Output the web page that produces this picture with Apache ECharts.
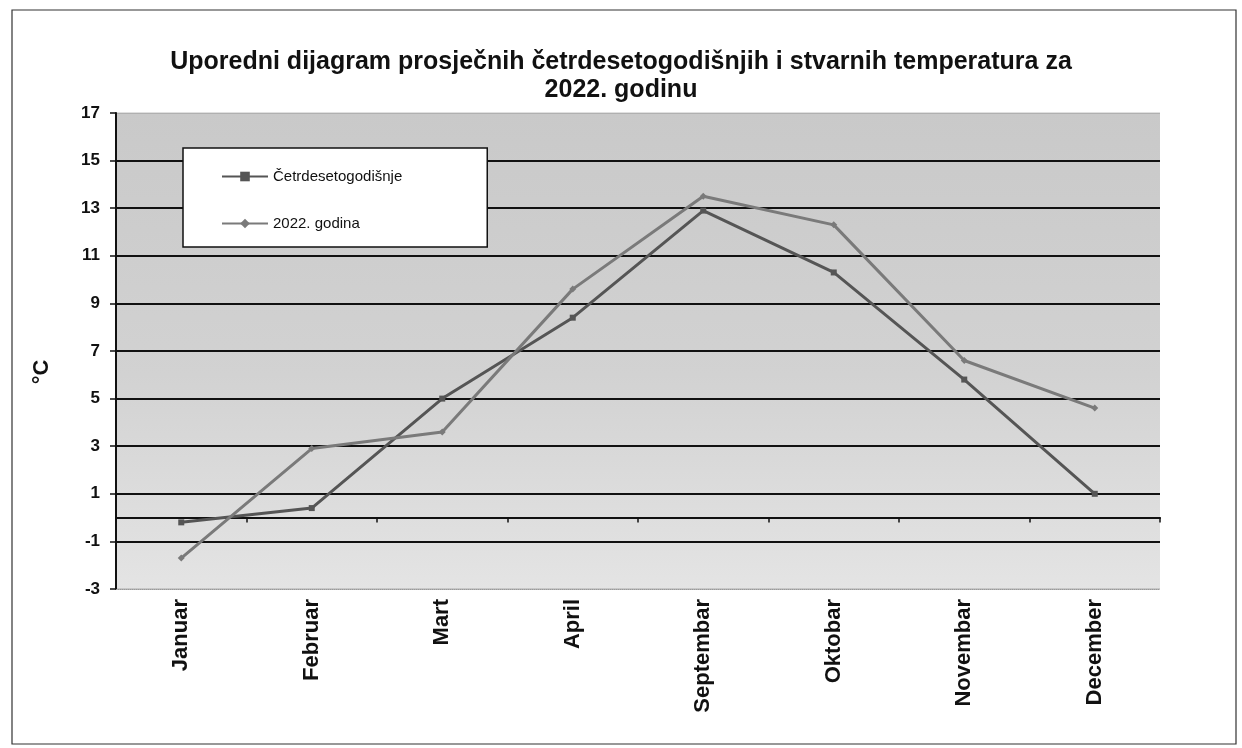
<!DOCTYPE html>
<html>
<head>
<meta charset="utf-8">
<script src="https://cdn.jsdelivr.net/npm/echarts@6/dist/echarts.min.js"></script>
<style>
  html, body { margin: 0; padding: 0; background: #fff; }
  #chart { width: 1242px; height: 748px; }
</style>
</head>
<body>
<div id="chart"></div>
<script>
"use strict";

var months = ['Januar', 'Februar', 'Mart', 'April', 'Septembar', 'Oktobar', 'Novembar', 'December'];
var prosjek = [-0.2, 0.4, 5.0, 8.4, 12.9, 10.3, 5.8, 1.0];
var godina2022 = [-1.7, 2.9, 3.6, 9.6, 13.5, 12.3, 6.6, 4.6];
var seriesNames = ['Četrdesetogodišnje', '2022. godina'];

var chart = echarts.init(document.getElementById('chart')),
	font = 'Liberation Sans, Arial, sans-serif',
	// first and last grid line (-3 and 17) are only the faint plot edge
	gridColors = ['rgba(0,0,0,0.12)'];
for (var i = 0; i < 9; i++) {
	gridColors.push('#111');
}
gridColors.push('rgba(0,0,0,0.12)');

var option = {
	backgroundColor: '#fff',
	textStyle: {fontFamily: font},
	title: {
		text: 'Uporedni dijagram prosječnih četrdesetogodišnjih i stvarnih temperatura za\n2022. godinu',
		left: 'center',
		top: 43,
		textStyle: {
			fontSize: 25,
			fontWeight: 'bold',
			color: '#111',
			lineHeight: 28
		}
	},
	legend: {
		orient: 'vertical',
		left: 183,
		top: 148,
		padding: [21, 85, 16, 38],
		itemGap: 32,
		itemWidth: 46,
		itemHeight: 12,
		backgroundColor: '#fff',
		borderColor: '#111',
		borderWidth: 1.5,
		data: seriesNames,
		textStyle: {fontSize: 15, color: '#111'}
	},
	graphic: [{
		type: 'rect',
		silent: true,
		shape: {x: 12, y: 10, width: 1224, height: 734},
		style: {fill: 'none', stroke: '#333', lineWidth: 1.2}
	}, {
		type: 'text',
		x: 42,
		y: 372,
		rotation: Math.PI / 2,
		style: {
			text: '°C',
			font: 'bold 22px ' + font,
			fill: '#111',
			align: 'center',
			verticalAlign: 'middle'
		}
	}],
	grid: {
		left: 116,
		right: 82,
		top: 113,
		bottom: 159,
		show: true,
		borderWidth: 0,
		backgroundColor: {
			type: 'linear', x: 0, y: 0, x2: 0, y2: 1,
			colorStops: [
				{offset: 0, color: '#c9c9c9'},
				{offset: 0.55, color: '#d2d2d2'},
				{offset: 1, color: '#e4e4e4'}
			]
		}
	},
	xAxis: [{
		type: 'category',
		data: months,
		boundaryGap: true,
		axisLine: {onZero: true, lineStyle: {color: '#111', width: 2}},
		axisTick: {show: true, length: 5, lineStyle: {color: '#111', width: 1.5}},
		axisLabel: {show: false}
	}, {
		type: 'category',
		data: months,
		position: 'bottom',
		boundaryGap: true,
		axisLine: {show: true, onZero: false, lineStyle: {color: '#999', width: 1, type: 'dotted'}},
		axisTick: {show: false},
		axisLabel: {
			rotate: 90,
			margin: 10,
			fontSize: 22,
			fontWeight: 'bold',
			color: '#111'
		}
	}],
	yAxis: {
		type: 'value',
		min: -3,
		max: 17,
		interval: 2,
		axisLine: {show: true, lineStyle: {color: '#111', width: 2}},
		axisTick: {show: true, length: 6, lineStyle: {color: '#111', width: 1.5}},
		axisLabel: {
			margin: 16,
			fontSize: 17,
			fontWeight: 'bold',
			color: '#111'
		},
		splitLine: {show: true, lineStyle: {color: gridColors, width: 2}}
	},
	series: [{
		name: seriesNames[0],
		type: 'line',
		data: prosjek,
		symbol: 'rect',
		symbolSize: 6,
		color: '#555',
		lineStyle: {width: 3, color: '#555'},
		itemStyle: {color: '#555'}
	}, {
		name: seriesNames[1],
		type: 'line',
		data: godina2022,
		symbol: 'diamond',
		symbolSize: 7,
		color: '#7a7a7a',
		lineStyle: {width: 3, color: '#7a7a7a'},
		itemStyle: {color: '#7a7a7a'}
	}]
};

chart.setOption(option);
</script>
</body>
</html>
